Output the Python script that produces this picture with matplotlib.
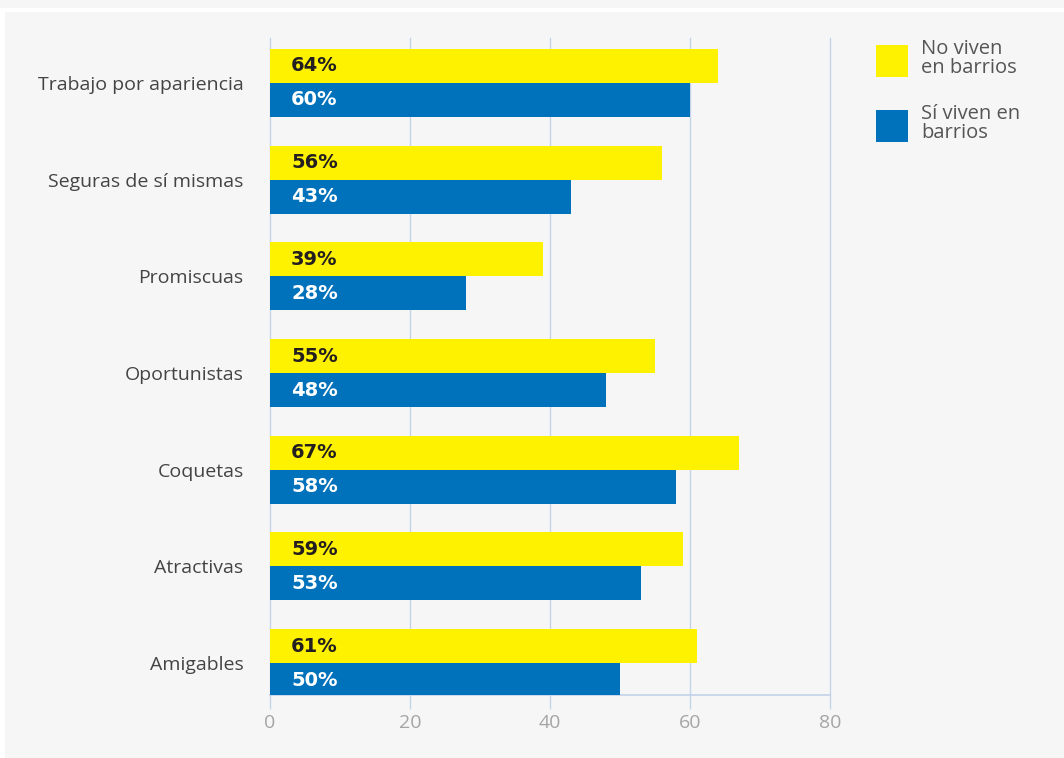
import matplotlib
matplotlib.use("Agg")
import matplotlib.pyplot as plt
from matplotlib.patches import Rectangle

# data
categorias = ["Trabajo por apariencia", "Seguras de sí mismas", "Promiscuas",
              "Oportunistas", "Coquetas", "Atractivas", "Amigables"]
no_viven = [64, 56, 39, 55, 67, 59, 61]
si_viven = [60, 43, 28, 48, 58, 53, 50]
x_ticks = [0, 20, 40, 60, 80]
serie_labels = ["No viven\nen barrios", "Sí viven en\nbarrios"]

AMARILLO = "#fff200"
AZUL = "#0072bc"
FONDO = "#f6f6f6"
GRID = "#c3d3ea"
FONT = "Open Sans"

fig = plt.figure(figsize=(10.64, 7.58), dpi=100, facecolor="white")
# light gray panel with white strip at top and left, like the page
fig.patches.append(Rectangle((5 / 1064, 0), 1, 746 / 758, transform=fig.transFigure,
                             facecolor=FONDO, edgecolor="none", zorder=-10))
fig.patches.append(Rectangle((0, 750 / 758), 1, 8 / 758, transform=fig.transFigure,
                             facecolor=FONDO, edgecolor="none", zorder=-10))

ax = fig.add_axes([270 / 1064, 63 / 758, 560 / 1064, 657 / 758])
ax.set_facecolor("none")

h = 0.352
pos = list(range(len(categorias)))
ax.barh([p - h / 2 for p in pos], no_viven, height=h, color=AMARILLO, zorder=3)
ax.barh([p + h / 2 for p in pos], si_viven, height=h, color=AZUL, zorder=3)

for p, a, b in zip(pos, no_viven, si_viven):
    ax.text(3, p - h / 2, f"{a}%", va="center", ha="left", fontsize=14,
            fontweight="bold", color="#231f20", family="DejaVu Sans", zorder=4)
    ax.text(3, p + h / 2, f"{b}%", va="center", ha="left", fontsize=14,
            fontweight="bold", color="white", family="DejaVu Sans", zorder=4)

ax.set_xlim(0, 80)
ax.set_ylim(6.33, -0.465)
ax.set_xticks(x_ticks)
ax.set_yticks(pos)
ax.set_yticklabels(categorias, family=FONT, fontsize=14, color="#444444")
ax.tick_params(axis="y", length=0, pad=19)
ax.tick_params(axis="x", length=10, color=GRID, width=1, labelcolor="#a5a5a5",
               labelsize=14, pad=4)
for lbl in ax.get_xticklabels():
    lbl.set_family(FONT)

ax.grid(axis="x", color=GRID, linewidth=1, zorder=0)
for gl in ax.get_xgridlines():
    gl.set_clip_on(False)
ax.grid(axis="y", visible=False)
for s in ["top", "right", "left"]:
    ax.spines[s].set_visible(False)
ax.spines["bottom"].set_color(GRID)
ax.spines["bottom"].set_linewidth(1.2)

# legend drawn by hand to the right
for i, (col, txt) in enumerate(zip([AMARILLO, AZUL], serie_labels)):
    y_top = 45 + i * 65
    fig.patches.append(Rectangle((876 / 1064, 1 - (y_top + 32) / 758), 32 / 1064, 32 / 758,
                                 transform=fig.transFigure, facecolor=col, edgecolor="none"))
    fig.text(921 / 1064, 1 - (y_top - 6) / 758, txt, va="top", ha="left", fontsize=14.5,
             color="#555555", family=FONT, linespacing=0.95)

fig.savefig("out.png", dpi=100, facecolor=fig.get_facecolor())
